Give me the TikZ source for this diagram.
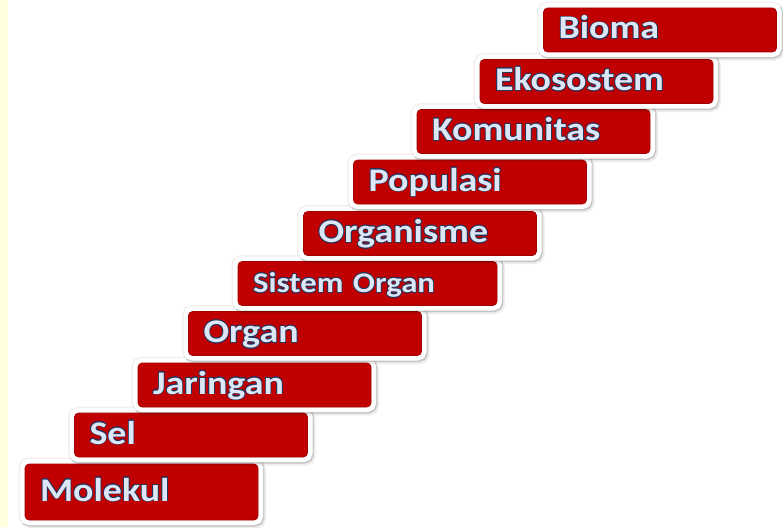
\documentclass[tikz,border=0pt]{standalone}
\usepackage{fontspec}
\newfontfamily\stepfont{Carlito}[FakeStretch=1.15]
\usepackage{contour}
\contourlength{0.7pt}
\newcommand\lbl[1]{\contour{outline}{#1}}
\begin{document}
\begin{tikzpicture}[x=1pt,y=-1pt,
  level/.style={rectangle, rounded corners=4pt, fill=boxred,
    draw=boxred!85!black, line width=0.6pt,
    minimum width=233pt, minimum height=44pt, text width=203pt,
    align=left, inner xsep=15pt, inner ysep=0pt,
    text height=22pt, text depth=4pt, text=textblue,
    font=\stepfont\bfseries\fontsize{33}{33}\selectfont,
    preaction={draw=black, line width=13pt, opacity=0.06},
    preaction={fill=black, draw=black, line width=12pt, opacity=0.07,
      transform canvas={shift={(2pt,-2.5pt)}}},
    preaction={fill=black, draw=black, line width=10pt, opacity=0.12,
      transform canvas={shift={(1.2pt,-1.5pt)}}},
    preaction={draw=white, line width=10pt}}]
\definecolor{boxred}{HTML}{C00000}
\definecolor{textblue}{HTML}{DCE6F4}
\definecolor{outline}{HTML}{26345E}
\definecolor{cream}{HTML}{FFFFDC}
\useasboundingbox (0,0) rectangle (783,527);
\fill [cream] (0,0) rectangle (8,527);
% steps from the bottom up
\node (molekul) at (141.5,492) [level, minimum height=56pt]{\lbl{Molekul}};
\node (sel) at (191,435) [level]{\lbl{Sel}};
\node (jaringan) at (254.5,385) [level]{\lbl{Jaringan}};
\node (organ) at (305,333.5) [level]{\lbl{Organ}};
\node (sistem) at (367.5,283.5) [level, minimum width=259pt, text width=229pt,
  font=\stepfont\bfseries\fontsize{28.5}{28.5}\selectfont]{\lbl{Sistem Organ}};
\node (organisme) at (420,233.5) [level]{\lbl{Organisme}};
\node (populasi) at (470,182) [level]{\lbl{Populasi}};
\node (komunitas) at (533.5,131.5) [level]{\lbl{Komunitas}};
\node (ekosistem) at (596.5,81.5) [level]{\lbl{Ekosostem}};
\node (bioma) at (660,30) [level]{\lbl{Bioma}};
\end{tikzpicture}
\end{document}
